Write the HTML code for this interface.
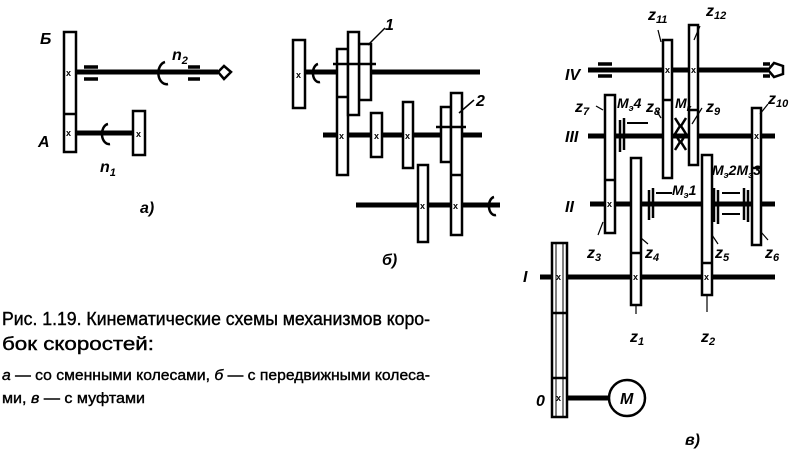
<!DOCTYPE html>
<html><head><meta charset="utf-8"><style>
html,body{margin:0;padding:0;background:#fff}
svg{display:block}
text{font-family:"Liberation Sans","DejaVu Sans",sans-serif;fill:#000}
.l{font-style:italic;font-weight:bold;font-size:16px}
</style></head><body>
<svg width="800" height="454" viewBox="0 0 800 454" xmlns="http://www.w3.org/2000/svg">
<g stroke="#000" fill="#fff" stroke-width="2.5">
<!-- a) -->
<line x1="76" y1="72" x2="218" y2="72" stroke-width="5"/>
<line x1="76" y1="133" x2="134" y2="133" stroke-width="5"/>
<rect x="64" y="32" width="12" height="120"/>
<line x1="64" y1="114" x2="76" y2="114"/>
<rect x="133" y="111" width="12" height="44"/>
<path d="M218 72 L224 66 L231 72 L224 79 Z"/>
<g stroke-width="3.5"><line x1="84" y1="67" x2="98" y2="67"/><line x1="84" y1="79" x2="98" y2="79"/><line x1="188" y1="67" x2="200" y2="67"/><line x1="188" y1="79" x2="200" y2="79"/></g>
<path d="M165 62 A8 11 0 1 0 168 84" fill="none"/>
<path d="M108 124 A7 10 0 1 0 110 144" fill="none"/>
<!-- б) -->
<line x1="305" y1="72" x2="480" y2="72" stroke-width="5"/>
<line x1="323" y1="135" x2="482" y2="135" stroke-width="5"/>
<line x1="356" y1="205" x2="500" y2="205" stroke-width="5"/>
<rect x="293" y="40" width="12" height="68"/>
<rect x="337" y="49" width="11" height="126"/>
<line x1="337" y1="97" x2="348" y2="97"/>
<rect x="359" y="44" width="12" height="56"/>
<rect x="348" y="32" width="11" height="83"/>
<line x1="333" y1="64" x2="376" y2="64"/>
<rect x="371" y="113" width="11" height="44"/>
<rect x="403" y="102" width="10" height="66"/>
<rect x="441" y="107" width="10" height="55"/>
<rect x="451" y="93" width="11" height="142"/>
<line x1="451" y1="175" x2="462" y2="175"/>
<line x1="436" y1="127" x2="466" y2="127"/>
<rect x="418" y="165" width="10" height="77"/>
<path d="M318 64 A6 9 0 1 0 320 82" fill="none"/>
<path d="M494 197 A6 9 0 1 0 496 215" fill="none"/>
<line x1="368" y1="45" x2="385" y2="28" stroke-width="1.5"/>
<line x1="459" y1="113" x2="474" y2="100" stroke-width="1.5"/>
<!-- в) shafts -->
<line x1="588" y1="70" x2="768" y2="70" stroke-width="5"/>
<line x1="588" y1="136" x2="775" y2="136" stroke-width="5"/>
<line x1="590" y1="204" x2="775" y2="204" stroke-width="5"/>
<line x1="540" y1="277" x2="775" y2="277" stroke-width="5"/>
<line x1="567" y1="398" x2="609" y2="398" stroke-width="5"/>
<path d="M768 70 L774 63 L783 66 L783 74 L774 77 Z"/>
<g stroke-width="3.5"><line x1="598" y1="64" x2="612" y2="64"/><line x1="598" y1="76" x2="612" y2="76"/><line x1="763" y1="64" x2="770" y2="64"/><line x1="763" y1="76" x2="770" y2="76"/></g>
<rect x="663" y="40" width="9" height="138"/><line x1="663" y1="100" x2="672" y2="100"/>
<rect x="689" y="25" width="9" height="140"/><line x1="689" y1="110" x2="698" y2="110"/>
<rect x="605" y="95" width="10" height="138"/><line x1="605" y1="180" x2="615" y2="180"/>
<rect x="752" y="108" width="9" height="137"/><line x1="752" y1="168" x2="761" y2="168"/>
<rect x="631" y="158" width="10" height="147"/><line x1="631" y1="253" x2="641" y2="253"/>
<rect x="702" y="155" width="10" height="140"/><line x1="702" y1="263" x2="712" y2="263"/>
<rect x="552" y="243" width="15" height="174"/>
<line x1="556" y1="243" x2="556" y2="417" stroke-width="1"/><line x1="563" y1="243" x2="563" y2="417" stroke-width="1"/>
<line x1="552" y1="313" x2="567" y2="313"/><line x1="552" y1="378" x2="567" y2="378"/>
<circle cx="627" cy="398" r="18"/>
<g stroke-width="2.5"><line x1="620" y1="120" x2="620" y2="152"/><line x1="624" y1="118" x2="624" y2="150"/>
<line x1="649" y1="190" x2="649" y2="220"/><line x1="653" y1="188" x2="653" y2="218"/>
<line x1="714" y1="188" x2="714" y2="222"/><line x1="718" y1="190" x2="718" y2="224"/>
<line x1="744" y1="188" x2="744" y2="220"/><line x1="748" y1="190" x2="748" y2="222"/>
<path d="M675 118 L680 126 L675 134 L680 142 L675 150" fill="none"/>
<path d="M686 118 L681 126 L686 134 L681 142 L686 150" fill="none"/></g>
<g stroke-width="2"><line x1="627" y1="123" x2="648" y2="123"/><line x1="656" y1="193" x2="672" y2="193"/><line x1="722" y1="193" x2="740" y2="193"/><line x1="722" y1="214" x2="740" y2="214"/></g>
<g stroke-width="1.2"><line x1="603" y1="110" x2="596" y2="106"/><line x1="661" y1="118" x2="656" y2="110"/><line x1="692" y1="124" x2="702" y2="108"/><line x1="661" y1="42" x2="658" y2="30"/><line x1="694" y1="40" x2="700" y2="26"/><line x1="760" y1="114" x2="768" y2="104"/><line x1="603" y1="222" x2="598" y2="235"/><line x1="641" y1="238" x2="648" y2="244"/><line x1="712" y1="235" x2="718" y2="244"/><line x1="761" y1="232" x2="768" y2="240"/><line x1="636" y1="305" x2="636" y2="314"/><line x1="707" y1="295" x2="707" y2="312"/></g>
</g>
<g font-family="Liberation Sans,sans-serif" font-size="9" font-weight="bold">
<text x="66" y="76">x</text><text x="66" y="136">x</text><text x="136" y="137">x</text>
<text x="296" y="78">x</text><text x="339" y="139">x</text><text x="374" y="139">x</text><text x="405" y="139">x</text><text x="420" y="209">x</text><text x="453" y="209">x</text>
<text x="665" y="73">x</text><text x="691" y="73">x</text><text x="754" y="139">x</text><text x="607" y="207">x</text><text x="633" y="280">x</text><text x="704" y="280">x</text><text x="556" y="280">x</text><text x="556" y="401">x</text>
</g>
<g class="l">
<text x="40" y="44">Б</text><text x="38" y="147">А</text>
<text x="172" y="60">n<tspan font-size="11" dy="4">2</tspan></text>
<text x="100" y="172">n<tspan font-size="11" dy="4">1</tspan></text>
<text x="140" y="213">а)</text>
<text x="385" y="30">1</text><text x="476" y="106">2</text>
<text x="382" y="265">б)</text>
<text x="565" y="80">IV</text><text x="565" y="142">III</text><text x="565" y="212">II</text><text x="523" y="282">I</text><text x="536" y="406">0</text>
<text x="620" y="404">M</text>
<text x="648" y="20">z<tspan font-size="11" dy="3">11</tspan></text>
<text x="706" y="16">z<tspan font-size="11" dy="3">12</tspan></text>
<text x="575" y="112">z<tspan font-size="11" dy="3">7</tspan></text>
<text x="617" y="108" font-size="14">M<tspan font-size="9" dy="3">э</tspan><tspan dy="-3">4</tspan></text>
<text x="646" y="112">z<tspan font-size="11" dy="3">8</tspan></text>
<text x="675" y="108" font-size="14">M<tspan font-size="9" dy="3">к</tspan></text>
<text x="706" y="112">z<tspan font-size="11" dy="3">9</tspan></text>
<text x="768" y="104">z<tspan font-size="11" dy="3">10</tspan></text>
<text x="672" y="195" font-size="14">M<tspan font-size="9" dy="3">э</tspan><tspan dy="-3">1</tspan></text>
<text x="712" y="175" font-size="14">M<tspan font-size="9" dy="3">э</tspan><tspan dy="-3">2</tspan>M<tspan font-size="9" dy="3">э</tspan><tspan dy="-3">3</tspan></text>
<text x="587" y="258">z<tspan font-size="11" dy="3">3</tspan></text>
<text x="645" y="258">z<tspan font-size="11" dy="3">4</tspan></text>
<text x="715" y="258">z<tspan font-size="11" dy="3">5</tspan></text>
<text x="765" y="258">z<tspan font-size="11" dy="3">6</tspan></text>
<text x="630" y="342">z<tspan font-size="11" dy="3">1</tspan></text>
<text x="701" y="342">z<tspan font-size="11" dy="3">2</tspan></text>
<text x="685" y="445">в)</text>
</g>
<g font-family="Liberation Sans Narrow,Liberation Sans,sans-serif" stroke="#000" stroke-width="0.4">
<text x="2" y="325" font-size="18" textLength="428" lengthAdjust="spacingAndGlyphs">Рис. 1.19. Кинематические схемы механизмов коро-</text>
<text x="2" y="350" font-size="18" textLength="152" lengthAdjust="spacingAndGlyphs">бок скоростей:</text>
<text x="2" y="380" font-size="15" textLength="428" lengthAdjust="spacingAndGlyphs"><tspan font-style="italic">а</tspan> — со сменными колесами, <tspan font-style="italic">б</tspan> — с передвижными колеса-</text>
<text x="2" y="403" font-size="15" textLength="143" lengthAdjust="spacingAndGlyphs">ми, <tspan font-style="italic">в</tspan> — с муфтами</text>
</g>
</svg>
</body></html>
